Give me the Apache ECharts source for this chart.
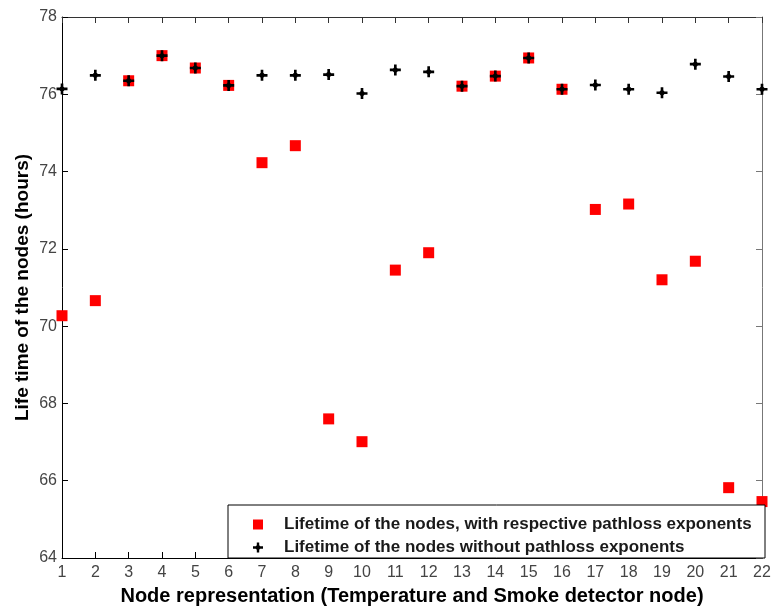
<!DOCTYPE html>
<html>
<head>
<meta charset="utf-8">
<script src="https://cdn.jsdelivr.net/npm/echarts@6/dist/echarts.min.js"></script>
<style>
    html, body { margin: 0; padding: 0; background: #fff; }
    #chart { width: 771px; height: 607px; }
</style>
</head>
<body>
<div id="chart"></div>
<script>
// node numbers on the x axis
var nodes = [1, 2, 3, 4, 5, 6, 7, 8, 9, 10, 11, 12, 13, 14, 15, 16, 17, 18, 19, 20, 21, 22]
// lifetime (hours) with respective pathloss exponents
var withPathloss = [70.27, 70.66, 76.35, 77.0, 76.68, 76.23, 74.23, 74.67, 67.6, 67.01, 71.45,
    71.9, 76.21, 76.47, 76.94, 76.13, 73.02, 73.16, 71.2, 71.68, 65.82, 65.46]
// lifetime (hours) without pathloss exponents
var withoutPathloss = [76.14, 76.49, 76.35, 77.0, 76.68, 76.23, 76.49, 76.49, 76.51, 76.02, 76.63,
    76.58, 76.21, 76.47, 76.94, 76.13, 76.24, 76.13, 76.04, 76.78, 76.46, 76.13]

var seriesNames = ['Lifetime of the nodes, with respective pathloss exponents',
    'Lifetime of the nodes without pathloss exponents']

function pairs(xs, ys) {
    var out = []
    for (var i = 0; i < xs.length; i++) out.push([xs[i], ys[i]])
    return out
}

// fat plus with a filled centre, close to the matlab marker
var starPath = 'path://M3.8,0 L6.2,0 L6.2,3.8 L10,3.8 L10,6.2 L6.2,6.2 L6.2,10 L3.8,10 L3.8,6.2 L0,6.2 L0,3.8 L3.8,3.8 Z M5,1.6 L8.4,5 L5,8.4 L1.6,5 Z'

var font = 'Arial, "Liberation Sans", sans-serif'
var chart = echarts.init(document.getElementById('chart'))

var option = {
    animation: false,
    textStyle: { fontFamily: font },
    grid: { left: 62, right: 9, top: 17, bottom: 49, outerBoundsMode: 'none' },
    legend: {
        orient: 'vertical',
        left: 248,
        top: 511,
        itemWidth: 10,
        itemHeight: 10,
        itemGap: 6,
        z: 10,
        textStyle: { fontFamily: font, fontSize: 17, fontWeight: 'bold', color: '#1a1a1a', padding: [0, 0, 0, 16] },
        data: [
            { name: seriesNames[0], icon: 'rect', itemStyle: { color: '#ff0000' } },
            { name: seriesNames[1], icon: starPath, itemStyle: { color: '#000' } }
        ]
    },
    graphic: [{
        type: 'rect',
        shape: { x: 228, y: 505, width: 537, height: 53 },
        style: { fill: '#fff', stroke: '#000', lineWidth: 1 },
        z: 5
    }],
    xAxis: [{
        type: 'value',
        min: 1,
        max: 22,
        interval: 1,
        name: 'Node representation (Temperature and Smoke detector node)',
        nameLocation: 'middle',
        nameGap: 28,
        nameTextStyle: { fontFamily: font, fontSize: 20, fontWeight: 'bold', color: '#000' },
        axisLine: { lineStyle: { color: '#000' } },
        axisTick: { inside: true, length: 6, lineStyle: { color: '#000' } },
        axisLabel: { fontFamily: font, fontSize: 16, color: '#444', margin: 7 },
        splitLine: { show: false }
    }, {
        type: 'value',
        position: 'top',
        min: 1,
        max: 22,
        interval: 1,
        axisLine: { show: true, lineStyle: { color: '#333' } },
        axisTick: { show: true, inside: true, length: 6, lineStyle: { color: '#333' } },
        axisLabel: { show: false },
        splitLine: { show: false }
    }],
    yAxis: [{
        type: 'value',
        min: 64,
        max: 78,
        interval: 2,
        name: 'Life time of the nodes (hours)',
        nameLocation: 'middle',
        nameGap: 30,
        nameMoveOverlap: false,
        nameTextStyle: { fontFamily: font, fontSize: 19, fontWeight: 'bold', color: '#000' },
        axisLine: { show: true, lineStyle: { color: '#000' } },
        axisTick: { show: true, inside: true, length: 6, lineStyle: { color: '#000' } },
        axisLabel: { fontFamily: font, fontSize: 16, color: '#444', margin: 5 },
        splitLine: { show: false }
    }, {
        type: 'value',
        position: 'right',
        min: 64,
        max: 78,
        interval: 2,
        axisLine: { show: true, lineStyle: { color: '#777' } },
        axisTick: { show: true, inside: true, length: 6, lineStyle: { color: '#777' } },
        axisLabel: { show: false },
        splitLine: { show: false }
    }],
    series: [{
        name: seriesNames[0],
        type: 'scatter',
        symbol: 'rect',
        symbolSize: 11,
        clip: false,
        itemStyle: { color: '#ff0000', opacity: 1 },
        data: pairs(nodes, withPathloss),
        z: 3
    }, {
        name: seriesNames[1],
        type: 'scatter',
        symbol: starPath,
        symbolSize: 11,
        clip: false,
        itemStyle: { color: '#000', opacity: 1 },
        data: pairs(nodes, withoutPathloss),
        z: 4
    }]
}
chart.setOption(option)
</script>
</body>
</html>
